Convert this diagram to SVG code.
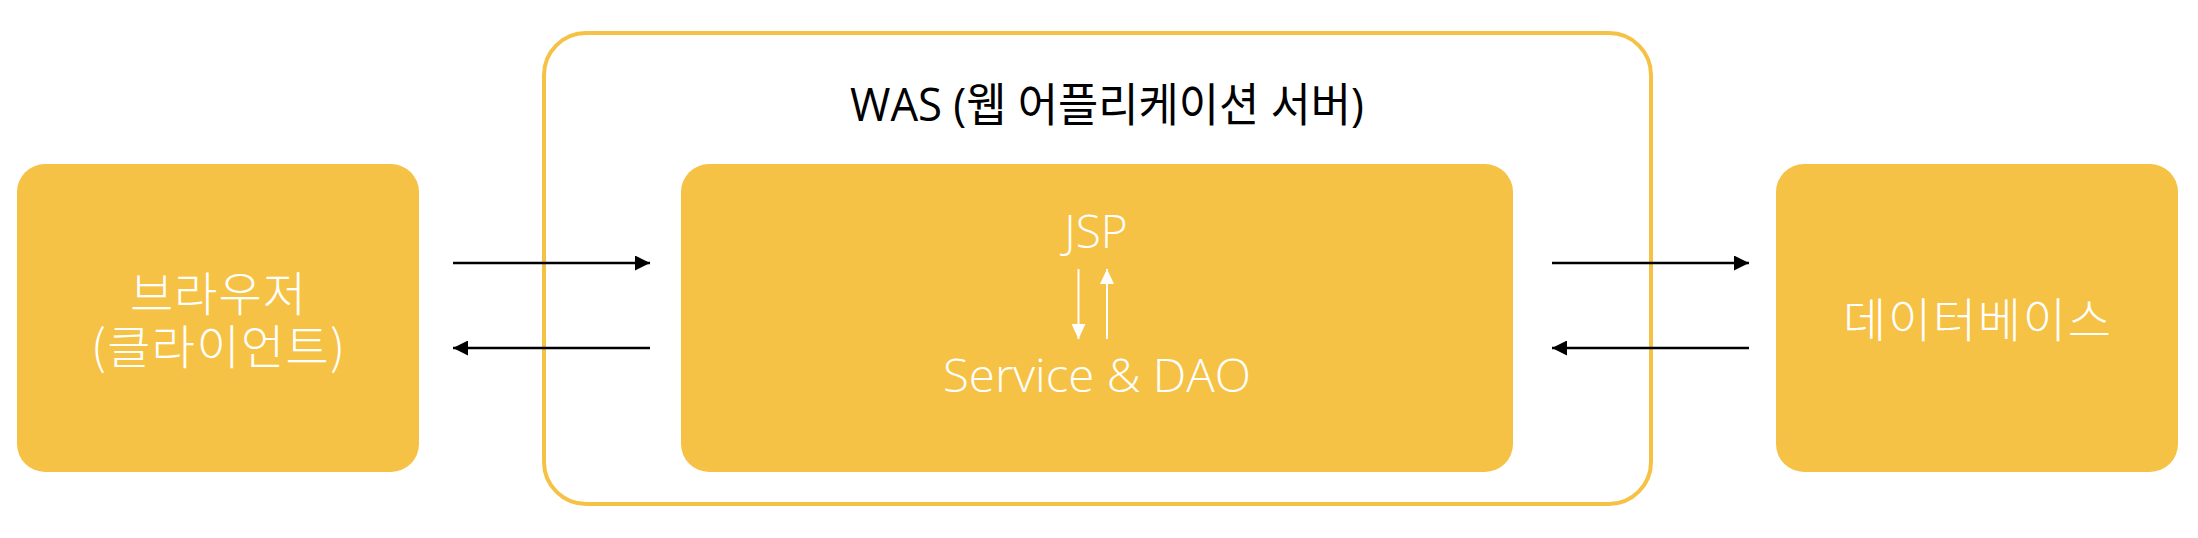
<svg xmlns="http://www.w3.org/2000/svg" width="2198" height="538" viewBox="0 0 2198 538">
  <style>
    .node { fill: #F6C245; }
    .lbl { fill: #FFFFFF; font-family: "Open Sans", "Noto Sans CJK KR", sans-serif; font-size: 46px; font-weight: 300; text-anchor: middle; }
    .kr { fill: #FFFFFF; font-family: "Noto Sans CJK KR", sans-serif; font-size: 47px; font-weight: 300; text-anchor: middle; }
    .title { fill: #000000; font-family: "Open Sans", "Noto Sans CJK KR", sans-serif; font-size: 46px; text-anchor: middle; }
    .blk { stroke: #000000; stroke-width: 2.5; fill: none; }
    .wht { stroke: #FFFFFF; stroke-width: 2; fill: none; }
  </style>
  <defs>
    <marker id="ahB" markerUnits="userSpaceOnUse" markerWidth="15" markerHeight="15" refX="15" refY="7.5" orient="auto">
      <path d="M0,0 L15,7.5 L0,15 z" fill="#000000"/>
    </marker>
    <marker id="ahW" markerUnits="userSpaceOnUse" markerWidth="15" markerHeight="14" refX="15" refY="7" orient="auto">
      <path d="M0,0 L15,7 L0,14 z" fill="#FFFFFF"/>
    </marker>
  </defs>
  <rect width="2198" height="538" fill="#FFFFFF"/>

  <g id="was">
    <rect x="544" y="33" width="1107" height="471" rx="42" ry="42" fill="none" stroke="#F6C245" stroke-width="4"/>
    <text class="title" x="1107" y="121" textLength="514" lengthAdjust="spacingAndGlyphs">WAS (웹 어플리케이션 서버)</text>
  </g>

  <g id="browser">
    <rect class="node" x="17" y="164" width="402" height="308" rx="28" ry="28"/>
    <text class="kr"><tspan x="218" y="311" textLength="176" lengthAdjust="spacing">브라우저</tspan><tspan x="218" y="364" textLength="254" lengthAdjust="spacing">(클라이언트)</tspan></text>
  </g>

  <g id="jsp-service">
    <rect class="node" x="681" y="164" width="832" height="308" rx="28" ry="28"/>
    <text class="lbl" x="1096" y="248">JSP</text>
    <text class="lbl" x="1097" y="392" textLength="308" lengthAdjust="spacingAndGlyphs">Service &amp; DAO</text>
  </g>

  <g id="database">
    <rect class="node" x="1776" y="164" width="402" height="308" rx="28" ry="28"/>
    <text class="kr" x="1977" y="337" textLength="268" lengthAdjust="spacing">데이터베이스</text>
  </g>

  <g id="connectors">
    <line class="blk" x1="453" y1="263" x2="650" y2="263" marker-end="url(#ahB)"/>
    <line class="blk" x1="650" y1="348" x2="453" y2="348" marker-end="url(#ahB)"/>
    <line class="blk" x1="1552" y1="263" x2="1749" y2="263" marker-end="url(#ahB)"/>
    <line class="blk" x1="1749" y1="348" x2="1552" y2="348" marker-end="url(#ahB)"/>
    <line class="wht" x1="1078.5" y1="269" x2="1078.5" y2="339" marker-end="url(#ahW)"/>
    <line class="wht" x1="1107" y1="339" x2="1107" y2="269" marker-end="url(#ahW)"/>
  </g>
</svg>
